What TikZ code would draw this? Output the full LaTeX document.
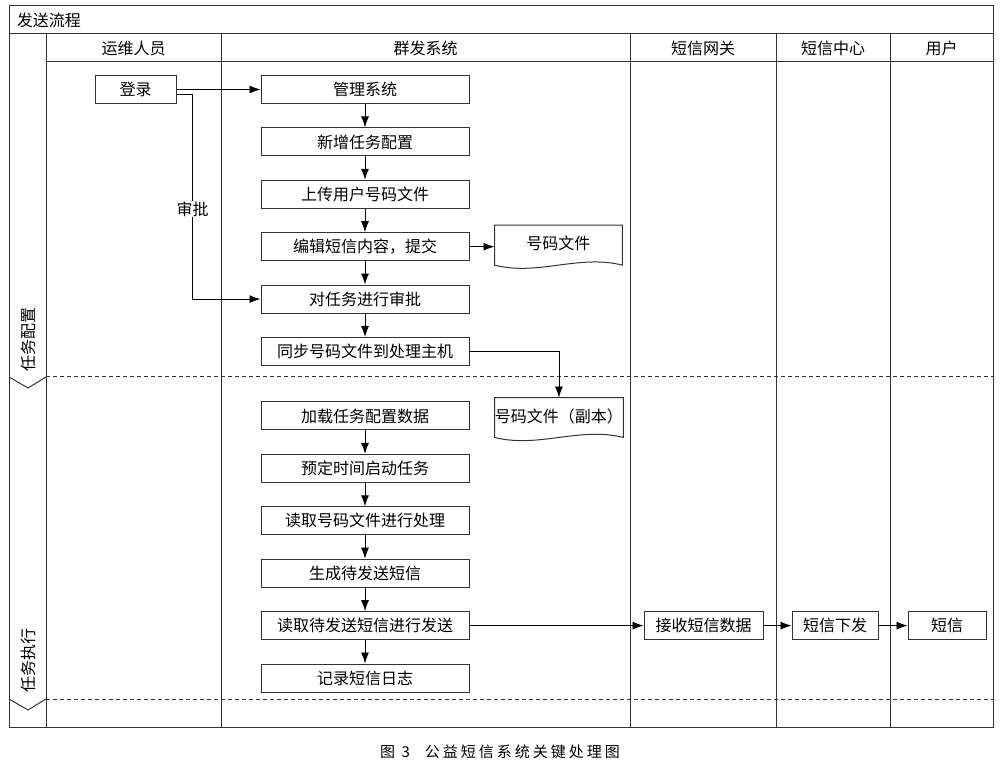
\documentclass[tikz,border=0pt]{standalone}
\usepackage{fontspec}
\newfontfamily\cjk{Noto Sans CJK SC}
\newfontfamily\cjkcap[LetterSpace=20]{Noto Sans CJK SC}
\usetikzlibrary{arrows.meta, positioning}

\begin{document}
\begin{tikzpicture}[x=1pt, y=1pt, >={Latex[length=11pt,width=8pt]}, node distance=23.4pt,
  font=\cjk\fontsize{16}{19}\selectfont, line width=0.9pt,
  lane/.style={draw=black!80, line width=1pt},
  task node/.style={rectangle, draw=black!80, line width=1pt, minimum width=208pt, minimum height=28pt, inner sep=0pt},
  small node/.style={task node, minimum width=#1},
  file node/.style={rectangle, minimum width=127pt, minimum height=36pt, inner sep=0pt}]
			\useasboundingbox (0,0) rectangle (1000,774);

			% swimlane frame
			\draw[lane] (9,47) rectangle (993,768);
			\draw[lane] (9,740) -- (993,740);
			\draw[lane] (46,712) -- (993,712);
			\foreach \x in {46,221,630,776,890}
				\draw[lane] (\x,740) -- (\x,47);
			\draw[lane, dash pattern=on 4pt off 3pt] (46,397) -- (993,397);
			\draw[lane, dash pattern=on 4pt off 3pt] (46,75) -- (993,75);
			\draw[lane] (9,397) -- (28,386) -- (46,397);
			\draw[lane] (9,75) -- (28,64) -- (46,75);

			\node[anchor=west] (title) at (13,754) {发送流程};
			\node (opsHead) at (133.5,726) {运维人员};
			\node (sysHead) at (425.5,726) {群发系统};
			\node (gwHead) at (703,726) {短信网关};
			\node (centerHead) at (833,726) {短信中心};
			\node (userHead) at (941.5,726) {用户};
			\node[rotate=90, anchor=west] (cfgPhase) at (28,399) {任务配置};
			\node[rotate=90, anchor=west] (runPhase) at (28,78) {任务执行};

			\node[task node] (mgmt) at (365,684.5) {管理系统};
			\node[task node] (addTask) [below=of mgmt] {新增任务配置};
			\node[task node] (upload) [below=of addTask] {上传用户号码文件};
			\node[task node] (edit) [below=of upload] {编辑短信内容，提交};
			\node[task node] (approve) [below=of edit] {对任务进行审批};
			\node[task node] (sync) [below=of approve] {同步号码文件到处理主机};
			\node[task node] (load) [below=35.5pt of sync] {加载任务配置数据};
			\node[task node] (start) [below=of load] {预定时间启动任务};
			\node[task node] (readFile) [below=of start] {读取号码文件进行处理};
			\node[task node] (gen) [below=of readFile] {生成待发送短信};
			\node[task node] (send) [below=of gen] {读取待发送短信进行发送};
			\node[task node] (logSms) [below=of send] {记录短信日志};

			\node[small node=81pt] (login) [left=84pt of mgmt] {登录};
			\node[file node] (numFile) [right=25pt of edit, yshift=3pt] {号码文件};
			\node[file node] (numCopy) [right=25pt of load] {号码文件（副本）};
			\node[small node=119pt] (recv) [right=174pt of send] {接收短信数据};
			\node[small node=86pt] (issue) [right=28pt of recv] {短信下发};
			\node[small node=78pt] (sms) [right=29pt of issue] {短信};

			% document outline with wavy bottom
			\foreach \f in {numFile,numCopy}
				\draw[lane] (\f.north west) -- (\f.north east) -- ([yshift=-3pt]\f.south east)
					.. controls ([xshift=-44pt,yshift=8pt]\f.south east) and ([xshift=44pt,yshift=-14pt]\f.south west)
					.. ([yshift=-3pt]\f.south west) -- cycle;

			\path[->]
				(login) edge (mgmt)
				(mgmt) edge (addTask)
				(addTask) edge (upload)
				(upload) edge (edit)
				(edit) edge (approve)
				(approve) edge (sync)
				(edit) edge (numFile.west |- edit)
				(load) edge (start)
				(start) edge (readFile)
				(readFile) edge (gen)
				(gen) edge (send)
				(send) edge (logSms)
				(send) edge (recv)
				(recv) edge (issue)
				(issue) edge (sms)
			;
			\draw[->] ([yshift=-5pt]login.east) -- ++(16,0) |- node[pos=0.28, fill=white, inner sep=1pt] (approveTag) {审批} (approve.west);
			\draw[->] (sync.east) -| (numCopy.north);

			\node[font=\cjkcap\fontsize{15}{18}\selectfont] (caption) at (500,22) {图 3\quad 公益短信系统关键处理图};
		\end{tikzpicture}
\end{document}
